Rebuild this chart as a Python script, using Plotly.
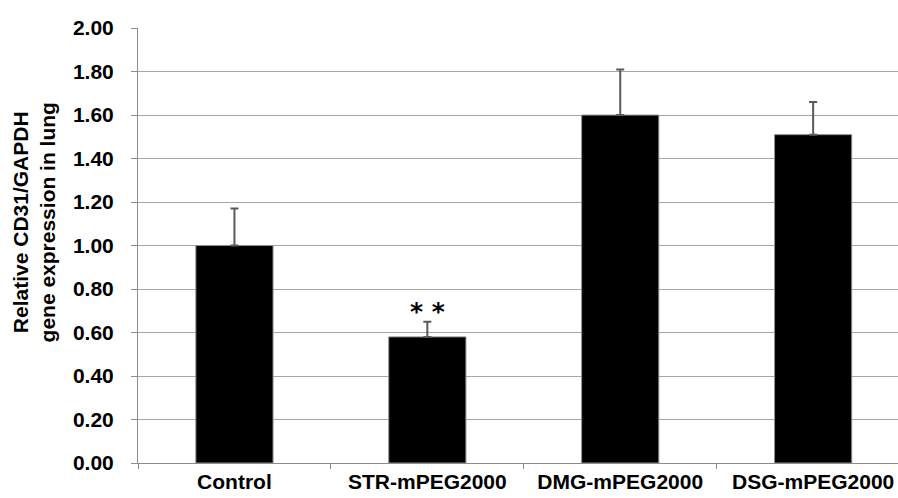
import plotly.graph_objects as go

categories = ["Control", "STR-mPEG2000", "DMG-mPEG2000", "DSG-mPEG2000"]
means = [1.00, 0.58, 1.60, 1.51]
errors_upper = [0.17, 0.07, 0.21, 0.15]
y_ticks = [0.0, 0.2, 0.4, 0.6, 0.8, 1.0, 1.2, 1.4, 1.6, 1.8, 2.0]
y_tick_labels = ["0.00", "0.20", "0.40", "0.60", "0.80", "1.00",
                 "1.20", "1.40", "1.60", "1.80", "2.00"]
significance = {"STR-mPEG2000": "* *"}
y_title = "Relative CD31/GAPDH<br>gene expression in lung"

FONT = "Arial, Liberation Sans, sans-serif"
GRID = "#a6a6a6"
AXIS = "#8c8c8c"

fig = go.Figure()
fig.add_trace(go.Bar(
    x=categories,
    y=means,
    width=0.40,
    marker=dict(color="black", line=dict(color="#8c8c8c", width=1)),
    error_y=dict(type="data", symmetric=False, array=errors_upper,
                 arrayminus=[0] * len(means),
                 color="#5a5a5a", thickness=2, width=4),
))

# significance marks above the error bars
for cat, mark in significance.items():
    i = categories.index(cat)
    fig.add_annotation(
        x=cat, y=means[i] + errors_upper[i], xref="x", yref="y",
        text=mark, showarrow=False, yanchor="bottom", yshift=-6,
        font=dict(family="DejaVu Sans", size=25, color="black",
                  weight="bold"),
    )

# rotated y-axis title
fig.add_annotation(
    xref="paper", x=(34 - 138) / 760, y=0.553, yref="paper",
    text=y_title, showarrow=False, textangle=-90,
    xanchor="center", yanchor="middle",
    font=dict(family=FONT, size=21, color="black", weight="bold"),
)

fig.update_layout(
    width=898, height=498,
    margin=dict(l=138, r=0, t=28, b=35),
    paper_bgcolor="white", plot_bgcolor="white",
    showlegend=False,
    font=dict(family=FONT, color="black"),
)
fig.update_xaxes(
    range=[-0.5, 3.44],
    showline=True, linecolor=AXIS, linewidth=1,
    ticks="outside", ticklen=5, tickcolor=AXIS, tickwidth=1,
    tickson="boundaries",
    showgrid=False,
    tickfont=dict(family=FONT, size=21, color="black", weight="bold"),
)
fig.update_yaxes(
    range=[0, 2.0005],
    tickvals=y_ticks, ticktext=y_tick_labels,
    showline=True, linecolor=AXIS, linewidth=1,
    ticks="outside", ticklen=6, tickcolor=AXIS, tickwidth=1,
    ticklabelstandoff=13,
    showgrid=True, gridcolor=GRID, gridwidth=1,
    zeroline=False,
    tickfont=dict(family=FONT, size=21, color="black", weight="bold"),
    automargin=False,
)

fig.write_html("out.html")
